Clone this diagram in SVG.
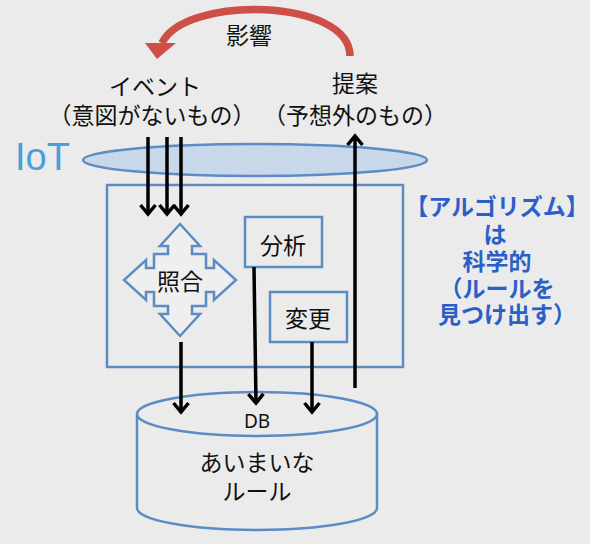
<svg xmlns="http://www.w3.org/2000/svg" width="590" height="544" viewBox="0 0 590 544">
<style>
.bg{fill:#ebebeb}
.blue{fill:none;stroke:#5b8cc4;stroke-width:2.5}
.t{font-family:"Liberation Sans","Noto Sans CJK JP",sans-serif;font-size:23px;fill:#111;text-anchor:middle}
.b{font-family:"Liberation Sans","Noto Sans CJK JP",sans-serif;font-size:23px;font-weight:bold;fill:#2a5fc8;text-anchor:middle}
.con{stroke:#000;stroke-width:3.5;fill:none}
</style>
<defs>
<marker id="ah" markerUnits="userSpaceOnUse" markerWidth="24" markerHeight="24" refX="0" refY="0" viewBox="-12 -12 24 24" orient="auto" overflow="visible">
<path d="M -9 -7.5 L 0 0 L -9 7.5" fill="none" stroke="#000" stroke-width="3.5" stroke-linejoin="miter"/>
</marker>
</defs>
<rect class="bg" x="0" y="0" width="590" height="544"/>

<g id="influence">
<path d="M 350 56 C 350 -2, 185 -5, 162 43" fill="none" stroke="#cd4f48" stroke-width="7.5"/>
<polygon points="145,43 176,43 157,59" fill="#cd4f48"/>
<text class="t" x="249" y="44">影響</text>
</g>

<g id="event">
<text class="t" x="155" y="95">イベント</text>
<text class="t" x="152" y="124">（意図がないもの）</text>
</g>

<g id="proposal">
<text class="t" x="355" y="92">提案</text>
<text class="t" x="355" y="124">（予想外のもの）</text>
</g>

<g id="iot">
<ellipse cx="255" cy="160" rx="172" ry="16" fill="#c9d7ea" stroke="#5b8cc4" stroke-width="2.5"/>
<text x="15" y="170" font-family="Liberation Sans, Arial, sans-serif" font-size="38" fill="#4a9fdb">IoT</text>
</g>

<g id="system">
<rect class="blue" x="107" y="185" width="296" height="182"/>
</g>

<g id="match">
<polygon transform="translate(180,280)" points="0,-56 20,-34 12,-34 12,-26 26,-26 26,-12 34,-12 34,-20 56,0 34,20 34,12 26,12 26,26 12,26 12,34 20,34 0,56 -20,34 -12,34 -12,26 -26,26 -26,12 -34,12 -34,20 -56,0 -34,-20 -34,-12 -26,-12 -26,-26 -12,-26 -12,-34 -20,-34" fill="#efefef" stroke="#5b8cc4" stroke-width="2.5" stroke-linejoin="miter"/>
<text class="t" x="180" y="290">照合</text>
</g>

<g id="analysis">
<rect class="blue" x="245" y="217" width="77" height="50"/>
<text class="t" x="283" y="254">分析</text>
</g>

<g id="change">
<rect class="blue" x="270" y="292" width="77" height="50"/>
<text class="t" x="308" y="327">変更</text>
</g>

<g id="db">
<path d="M 137 414 L 137 508 A 120 22 0 0 0 377 508 L 377 414" fill="#ebebeb" stroke="#5b8cc4" stroke-width="2.5"/>
<ellipse cx="257" cy="414" rx="120" ry="22" fill="#ebebeb" stroke="#5b8cc4" stroke-width="2.5"/>
<text x="257" y="428" font-family="Noto Sans, sans-serif" font-size="19" fill="#111" text-anchor="middle">DB</text>
<text class="t" x="257" y="471">あいまいな</text>
<text class="t" x="257" y="500">ルール</text>
</g>

<g id="algorithm-note">
<text class="b" x="497" y="215">【アルゴリズム】</text>
<text class="b" x="495" y="243">は</text>
<text class="b" x="497" y="270">科学的</text>
<text class="b" x="497" y="297">（ルールを</text>
<text class="b" x="507" y="323">見つけ出す）</text>
</g>

<g id="connectors">
<line class="con" x1="148" y1="137" x2="148" y2="214" marker-end="url(#ah)"/>
<line class="con" x1="167" y1="137" x2="167" y2="214" marker-end="url(#ah)"/>
<line class="con" x1="181" y1="137" x2="181" y2="214" marker-end="url(#ah)"/>
<line class="con" x1="181" y1="342" x2="181" y2="412" marker-end="url(#ah)"/>
<line class="con" x1="254" y1="267" x2="256" y2="403" marker-end="url(#ah)"/>
<line class="con" x1="312" y1="342" x2="312" y2="412" marker-end="url(#ah)"/>
<line class="con" x1="355" y1="388" x2="355" y2="136" marker-end="url(#ah)"/>
</g>
</svg>
